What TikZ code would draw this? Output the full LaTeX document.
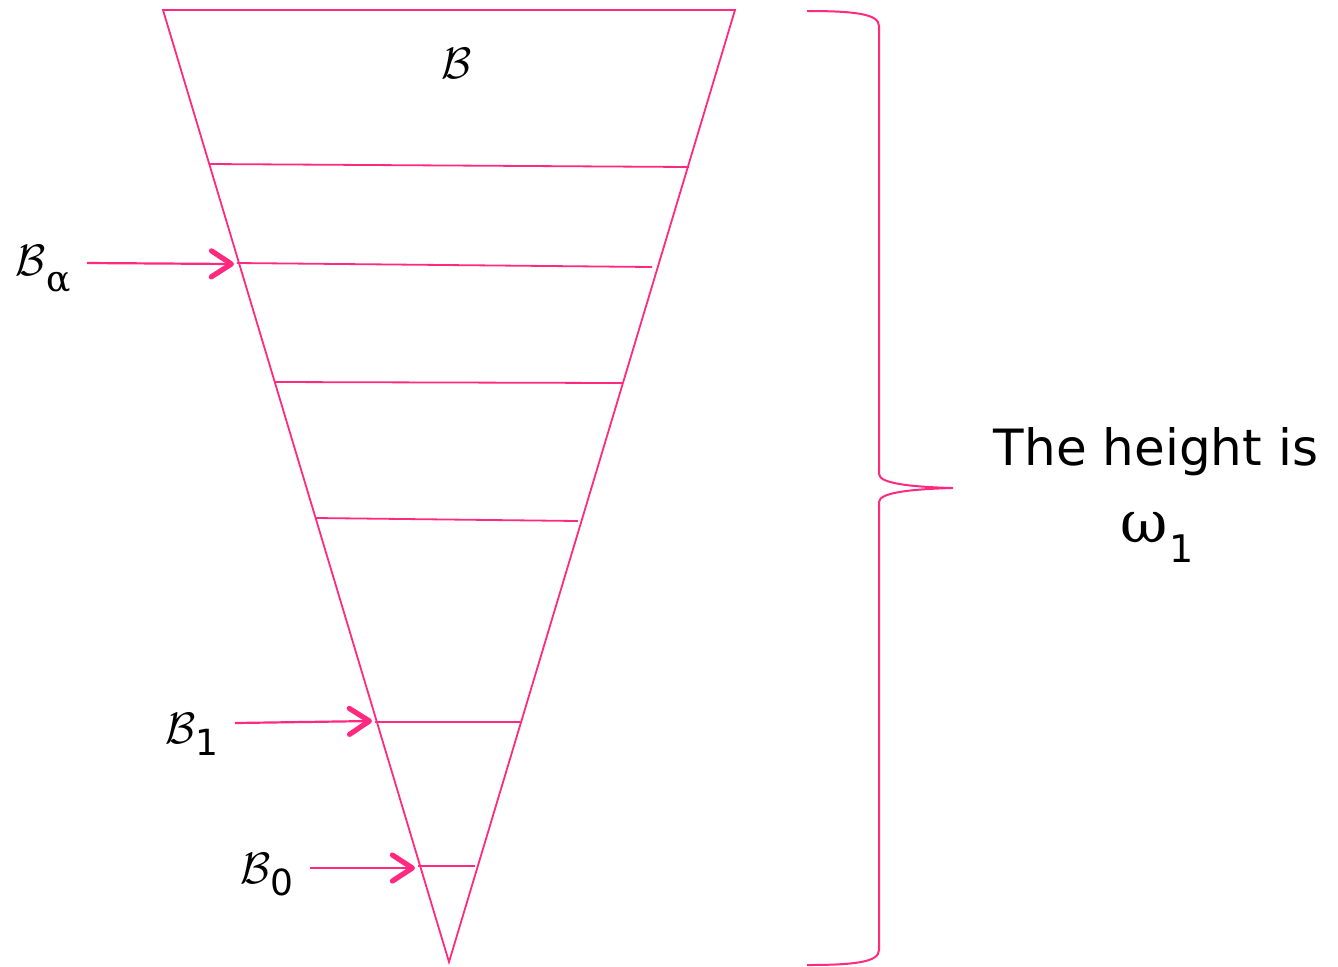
\documentclass[tikz,border=0pt]{standalone}
\usepackage{graphicx}
\usepackage{fontspec}
\setmainfont{DejaVu Sans}
\newfontfamily\dvserif{DejaVu Serif}
\usetikzlibrary{arrows.meta}
\definecolor{pink}{RGB}{255,42,127}
\newcommand{\scrB}{\scalebox{2.2}{$\mathcal{B}$}}
\newcommand{\lbsub}[1]{\raisebox{-6pt}{\fontsize{18}{20}\selectfont #1}}
\begin{document}
\begin{tikzpicture}[x=0.5pt,y=-0.5pt,
  edge/.style={draw=pink,line width=0.9pt},
  ptr/.style={draw=pink,line width=1.1pt,-{Straight Barb[length=10pt,width=13pt,line width=2.6pt,round]}},
  lab/.style={anchor=base west,inner sep=0pt,outer sep=0pt}]
\useasboundingbox (0,0) rectangle (1338,966);
% triangle
\coordinate (tl) at (163,10);
\coordinate (tr) at (735,10);
\coordinate (ap) at (449,962);
\draw[edge,line join=miter] (tl) -- (tr) -- (ap) -- cycle;
% levels
\coordinate (l1) at (209,164); \coordinate (r1) at (689,167);
\coordinate (l2) at (237,263); \coordinate (r2) at (652,267);
\coordinate (l3) at (275,382); \coordinate (r3) at (622,383);
\coordinate (l4) at (316,518); \coordinate (r4) at (578,521);
\coordinate (l5) at (375,722); \coordinate (r5) at (520,722);
\coordinate (l6) at (418,866); \coordinate (r6) at (475,866);
\draw[edge] (l1) -- (r1);
\draw[edge] (l2) -- (r2);
\draw[edge] (l3) -- (r3);
\draw[edge] (l4) -- (r4);
\draw[edge] (l5) -- (r5);
\draw[edge] (l6) -- (r6);
% labels
\node[lab] (Btop) at (441,78) {\scrB};
\node[lab] (Ba) at (16,275) {\scrB\raisebox{-8pt}{\fontsize{18}{22}\dvserif α}};
\node[lab] (B1) at (165,743) {\scrB\lbsub{1}};
\node[lab] (B0) at (240,883) {\scrB\lbsub{0}};
% arrows
\coordinate (sa) at (87,263);
\coordinate (s1) at (235,723);
\coordinate (s0) at (310,868);
\coordinate (ea) at (234,264);
\coordinate (e1) at (372,721);
\coordinate (e0) at (415,868);
\draw[ptr] (sa) -- (ea);
\draw[ptr] (s1) -- (e1);
\draw[ptr] (s0) -- (e0);
% brace
\coordinate (bt) at (807,11);
\coordinate (bb) at (807,965);
\coordinate (tip) at (953,488);
\draw[edge,line width=1pt] (bt) .. controls (855,11) and (879,14) .. (879,26)
  -- (879,474) .. controls (879,484) and (915,487) .. (tip)
  .. controls (915,489) and (879,492) .. (879,502)
  -- (879,950) .. controls (879,962) and (855,965) .. (bb);
% text
\node[anchor=base,inner sep=0pt] (ht) at (1156,465) {\fontsize{25}{30}\selectfont The height is};
\node[lab] (om) at (1120,542) {{\fontsize{29}{34}\dvserif ω}\kern1pt\raisebox{-10pt}{\fontsize{19}{22}\selectfont 1}};
\end{tikzpicture}
\end{document}
